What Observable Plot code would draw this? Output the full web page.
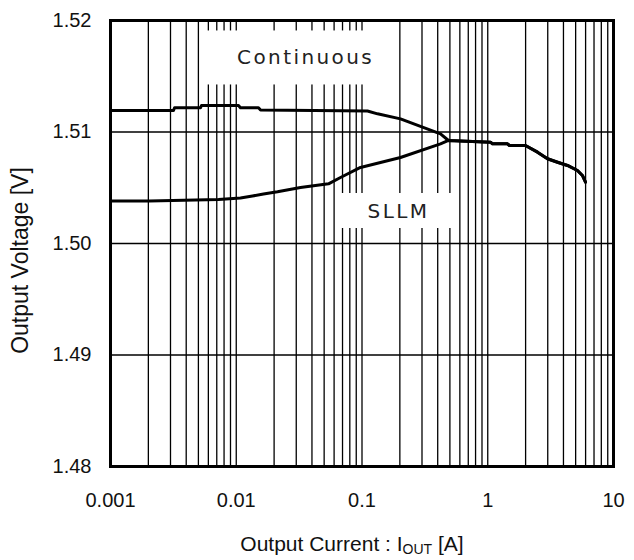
<!DOCTYPE html>
<html>
<head>
<meta charset="utf-8">
<script src="https://cdn.jsdelivr.net/npm/d3@7"></script>
<script src="https://cdn.jsdelivr.net/npm/@observablehq/plot@0.6"></script>
<style>
  body { margin: 0; background: #fff; font-family: "Liberation Sans", Arial, sans-serif; }
  #wrap { position: relative; width: 634px; height: 560px; }
  #xlabel { position: absolute; left: 0; width: 704px; top: 532px; text-align: center;
            font-size: 21px; line-height: 24px; color: #111; }
  #xlabel span.sub { font-size: 14px; vertical-align: -3px; }
</style>
</head>
<body>
<div id="wrap">
  <div id="chart"></div>
  <div id="xlabel">Output Current : I<span class="sub">OUT</span> [A]</div>
</div>
<script>
// ---- data ----
const contCurrent = [0.001, 0.00317, 0.00323, 0.0052, 0.00529, 0.01042, 0.0108, 0.01503, 0.0156, 0.1106, 0.1328, 0.2023, 0.421, 0.4875,
                     1.052, 1.091, 1.436, 1.489, 1.995, 2.488, 2.986, 3.589, 4.307, 5.17, 5.66, 5.99];
const contVoltage = [1.51193, 1.51193, 1.51217, 1.51217, 1.51238, 1.51238, 1.51217, 1.51217, 1.51197, 1.51188, 1.51163, 1.51118, 1.50984, 1.50924,
                     1.50909, 1.50894, 1.50894, 1.50879, 1.50879, 1.50819, 1.5076, 1.50729, 1.507, 1.50655, 1.5061, 1.5055];
const sllmCurrent = [0.001, 0.00204, 0.00722, 0.0108, 0.01346, 0.01647, 0.02128, 0.03243, 0.05417, 0.06745, 0.09727, 0.2023, 0.421, 0.4875,
                     1.052, 1.091, 1.436, 1.489, 1.995, 2.488, 2.986, 3.589, 4.307, 5.17, 5.66, 5.99];
const sllmVoltage = [1.50381, 1.50381, 1.50395, 1.50408, 1.50426, 1.50444, 1.50464, 1.50502, 1.50535, 1.50592, 1.50682, 1.50771, 1.50894, 1.50924,
                     1.50909, 1.50894, 1.50894, 1.50879, 1.50879, 1.50819, 1.5076, 1.50729, 1.507, 1.50655, 1.5061, 1.5055];
const xTicks = [0.001, 0.01, 0.1, 1, 10];
const xTickLabels = ["0.001", "0.01", "0.1", "1", "10"];
const yTicks = [1.48, 1.49, 1.50, 1.51, 1.52];
const yTickLabels = ["1.48", "1.49", "1.50", "1.51", "1.52"];
const labelText = ["Continuous", "SLLM"];
const labelCurrent = [0.0356, 0.195];
const labelVoltage = [1.51664, 1.50287];
const yTitle = "Output Voltage [V]";

// ---- build tables ----
const cont = contCurrent.map((c, i) => ({current: c, voltage: contVoltage[i]}));
const sllm = sllmCurrent.map((c, i) => ({current: c, voltage: sllmVoltage[i]}));
const labels = labelText.map((t, i) => ({text: t, current: labelCurrent[i], voltage: labelVoltage[i]}));
const xTickRows = xTicks.map((v, i) => ({current: v, label: xTickLabels[i]}));
const gridX = [];
for (let d = 0; d < xTicks.length - 1; d++) for (let m = 1; m <= 9; m++) gridX.push(xTicks[d] * m);
gridX.push(xTicks[xTicks.length - 1]);

const chart = Plot.plot({
  width: 634,
  height: 520,
  marginLeft: 110,
  marginRight: 21,
  marginTop: 20,
  marginBottom: 54,
  style: {fontFamily: "Liberation Sans, Arial, sans-serif", color: "#111", background: "#fff"},
  x: {type: "log", domain: [0.001, 10], axis: null},
  y: {domain: [1.48, 1.52]},
  marks: [
    Plot.ruleX(gridX, {stroke: "#000", strokeWidth: 1.3}),
    Plot.ruleY(yTicks, {stroke: "#000", strokeWidth: 1.3}),
    Plot.rect(labels.slice(0, 1), {x1: "current", x2: "current", y1: "voltage", y2: "voltage", fill: "#fff",
      insetLeft: -100, insetRight: -80, insetTop: -27, insetBottom: -27}),
    Plot.rect(labels.slice(1), {x1: "current", x2: "current", y1: "voltage", y2: "voltage", fill: "#fff",
      insetLeft: -58, insetRight: -54, insetTop: -18, insetBottom: -17}),
    Plot.line(cont, {x: "current", y: "voltage", stroke: "#000", strokeWidth: 3, strokeLinejoin: "round"}),
    Plot.line(sllm, {x: "current", y: "voltage", stroke: "#000", strokeWidth: 3, strokeLinejoin: "round"}),
    Plot.text(labels, {x: "current", y: "voltage", text: "text", fontSize: 20, fill: "#222",
      fontFamily: "DejaVu Sans, Verdana, sans-serif", textAnchor: "middle", lineAnchor: "middle"}),
    Plot.text(xTickRows, {x: "current", text: "label", frameAnchor: "bottom", lineAnchor: "top", dy: 26,
      fontSize: 20, fill: "#111", textAnchor: "middle"}),
    Plot.axisY({ticks: yTicks, tickFormat: d => yTickLabels[yTicks.findIndex(t => Math.abs(t - d) < 1e-9)], tickSize: 0, tickPadding: 19, fontSize: 20, label: null}),
    Plot.text([yTitle], {text: d => d, frameAnchor: "left", rotate: -90, dx: -90, dy: 17, fontSize: 23, fill: "#111", textAnchor: "middle"}),
    Plot.frame({stroke: "#000", strokeWidth: 3})
  ]
});
// widen the letter spacing of the two series labels, as in the reference
d3.select(chart).selectAll("text")
  .filter(function() { return labelText.includes(this.textContent); })
  .style("letter-spacing", "2.4px");
document.getElementById("chart").appendChild(chart);
</script>
</body>
</html>
